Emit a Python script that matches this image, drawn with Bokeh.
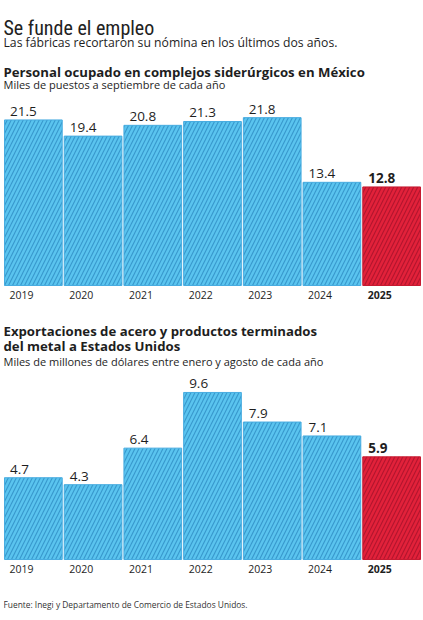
from bokeh.plotting import figure
from bokeh.models import Label, FactorRange, Range1d, ColumnDataSource
from bokeh.core.properties import value
from bokeh.embed import file_html
from bokeh.resources import INLINE

# ---------------- data ----------------
years = ["2019", "2020", "2021", "2022", "2023", "2024", "2025"]
empleo = [21.5, 19.4, 20.8, 21.3, 21.8, 13.4, 12.8]
exportaciones = [4.7, 4.3, 6.4, 9.6, 7.9, 7.1, 5.9]
highlight_year = "2025"

title_text = "Se funde el empleo"
subtitle_text = "Las fábricas recortaron su nómina en los últimos dos años."
chart1_title = "Personal ocupado en complejos siderúrgicos en México"
chart1_sub = "Miles de puestos a septiembre de cada año"
chart2_title = ["Exportaciones de acero y productos terminados",
                "del metal a Estados Unidos"]
chart2_sub = "Miles de millones de dólares entre enero y agosto de cada año"
source_text = "Fuente: Inegi y Departamento de Comercio de Estados Unidos."

# ---------------- layout / style ----------------
W, H = 423, 620
LB, RB = 3, 2
FONT = "Open Sans"
TITLE_FONT = "'Roboto Condensed', 'DejaVu Sans Condensed', 'Liberation Sans Narrow', Roboto, sans-serif"
TXT = "#1e1e1e"
BLUE, BLUE_H, BLUE_L = "#5ac4ef", "#2f8fc6", "#48ace0"
RED, RED_H, RED_L = "#e2213a", "#a8112a", "#c51a31"

base1, px1 = 335, 7.7      # baseline (px from bottom of frame), px per unit
base2, px2 = 61, 17.4

p = figure(width=W, height=H, x_range=FactorRange(*years, range_padding=0),
           y_range=Range1d(-base1 / px1, (H - base1) / px1),
           output_backend="svg", toolbar_location=None,
           x_axis_type=None, y_axis_type=None,
           min_border=0, min_border_left=LB, min_border_right=RB,
           outline_line_color=None, background_fill_color="white",
           border_fill_color="white")
p.grid.visible = False
p.extra_y_ranges = {"exp": Range1d(-base2 / px2, (H - base2) / px2)}

is_hi = [y == highlight_year for y in years]
slot = (W - LB - RB) / len(years)
bw = (slot - 2) / slot
left_edge = -slot * bw / 2


def make_src(vals):
    return ColumnDataSource(dict(
        x=years, top=vals,
        lab=[f"{v:.1f}" for v in vals],
        fill=[RED if h else BLUE for h in is_hi],
        hatch=[RED_H if h else BLUE_H for h in is_hi],
        line=[RED_L if h else BLUE_L for h in is_hi],
        style=["bold" if h else "normal" for h in is_hi],
    ))


for vals, rng in ((empleo, "default"), (exportaciones, "exp")):
    src = make_src(vals)
    p.vbar(x="x", top="top", bottom=0, width=bw, source=src,
           fill_color="fill", line_color="line", line_width=1,
           hatch_pattern="/", hatch_color="hatch", hatch_scale=8,
           hatch_weight=1.2, hatch_alpha=0.8, y_range_name=rng)
    p.text(x="x", y="top", text="lab", source=src, x_offset=left_edge + 5.5,
           y_offset=-4, text_align="left", text_baseline="bottom",
           text_font=value(FONT), text_font_size="13.5px",
           text_font_style="style", text_color=TXT, y_range_name=rng)
    p.text(x="x", y=0, text="x", source=src, x_offset=left_edge + 5,
           y_offset=5, text_align="left", text_baseline="top",
           text_font=value(FONT), text_font_size="10.5px",
           text_font_style="style", text_color=TXT, y_range_name=rng)


def lab(text, y, size, style="normal", font=FONT, color=TXT):
    p.add_layout(Label(x=0, y=y, x_units="screen", y_units="screen",
                       text=text, text_font=font, text_font_size=size,
                       text_font_style=style, text_color=color,
                       text_baseline="alphabetic", text_align="left"))


lab(title_text, 593, "20px", font=TITLE_FONT, color="#222222")
lab(subtitle_text, 578, "12.2px")
lab(chart1_title, 548.5, "13.2px", style="bold")
lab(chart1_sub, 536, "11px")
lab(chart2_title[0], 290, "13.2px", style="bold")
lab(chart2_title[1], 275, "13.2px", style="bold")
lab(chart2_sub, 259.3, "11px")
lab(source_text, 15.7, "8.4px", color="#333333")

open("out.html", "w").write(file_html(p, INLINE))
